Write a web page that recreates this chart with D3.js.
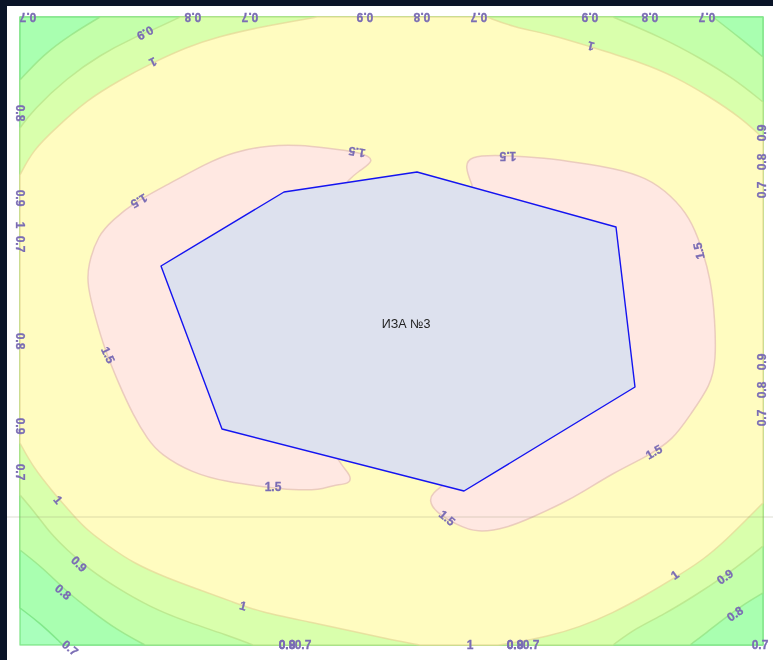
<!DOCTYPE html>
<html>
<head>
<meta charset="utf-8">
<script src="https://cdn.jsdelivr.net/npm/d3@7"></script>
<style>
  html, body { margin: 0; padding: 0; background: #0a1428; }
  svg { display: block; }
  #plot { filter: blur(0.35px); }
</style>
</head>
<body>
<svg id="chart" width="773" height="660"></svg>
<script>
// isolines, grid units. each one is a list of arcs, frame edges join the arcs
let frame = [[[0,0]],[[743,0]],[[743,628]],[[0,628]]]
let iso07 = [[[0,591],[20,606],[43,628]],[[743,628]],[[743,0]],[[0,0]]]
let iso08 = [
  [[0,63],[23,38],[50,18],[80,0]],
  [[693,0],[720,21],[743,40]],
  [[743,576],[726,586],[706,600],[686,616],[670,628]],
  [[125,628],[97,613],[70,593],[47,575],[23,551],[0,533]]
]
let iso09 = [
  [[0,111],[13,93],[47,61],[80,38],[113,21],[137,11],[160,0]],
  [[593,0],[643,21],[680,41],[713,61],[743,85]],
  [[743,529],[726,543],[706,558],[676,578],[643,598],[616,611],[593,628]],
  [[233,628],[207,618],[167,605],[130,590],[97,571],[70,553],[47,533],[30,516],[17,498],[0,478]]
]
let iso10 = [
  [[0,158],[13,133],[37,110],[67,83],[100,63],[132,46],[167,30],[197,20],[240,10],[297,0]],
  [[467,0],[493,10],[533,18],[571,30],[620,45],[656,60],[690,80],[720,100],[743,121]],
  [[743,486],[726,503],[706,523],[683,543],[656,560],[626,578],[593,596],[560,610],[526,620],[493,626],[478,628]],
  [[400,628],[373,623],[340,616],[290,605],[240,595],[213,585],[180,573],[147,561],[113,546],[87,528],[67,513],[53,498],[33,475],[13,450],[0,426]]
]
let iso15a = [[[328,164],[337,155],[357,143],[340,135],[307,131],[280,128],[250,128],[213,135],[187,146],[147,168],[113,186],[93,203],[78,218],[68,248],[67,268],[76,303],[85,333],[98,365],[113,398],[128,423],[140,437],[172,456],[207,465],[245,470],[273,473],[300,473],[313,468],[330,467],[331,459],[323,450],[318,442]]]
let iso15b = [[[452,168],[445,150],[449,139],[480,138],[526,141],[560,146],[593,151],[626,160],[652,179],[670,201],[681,228],[691,263],[695,303],[696,343],[691,368],[670,398],[653,423],[626,440],[593,456],[563,475],[543,486],[513,500],[487,511],[457,516],[437,508],[415,495],[409,483],[413,476],[422,469]]]
let area3 = [[141,249],[264,175],[397,155],[596,210],[615,370],[444,474],[202,412]]
let areaName = "ИЗА №3"
let areaPos = [386, 307]

let labelText = ["0.7","0.8","0.7","0.9","0.8","0.7","0.9","0.8","0.7",
  "0.8","0.9","1","0.7","0.8","0.9","0.7",
  "0.9","0.8","0.7","0.9","0.8","0.7",
  "0.8","0.9","0.7","1","0.8","0.9","0.7","0.7",
  "0.9","1","1","1.5","1.5","1.5",
  "0.7","0.8","0.9","1","1","1.5","1.5","1.5","1.5","1.5",
  "0.9","0.8","1"]
let labelX = [8,173,230,345,402,459,570,630,687,
  0,0,0,0,0,0,0,
  742,742,742,742,742,742,
  267,267,283,450,495,495,511,740,
  125,133,571,119,337,488,
  50,43,59,38,223,88,253,427,634,679,
  705,715,655]
let labelY = [0,0,0,0,0,0,0,0,0,
  96,181,208,227,324,409,455,
  116,145,173,345,373,401,
  628,628,628,628,628,628,628,628,
  16,45,29,184,135,139,
  631,575,547,483,589,338,470,501,435,234,
  560,597,558]
let labelAngle = [180,180,180,180,180,180,180,180,180,
  90,90,90,90,90,90,90,
  -90,-90,-90,-90,-90,-90,
  0,0,0,0,0,0,0,0,
  152,155,195,150,190,180,
  40,40,45,50,15,65,0,40,-30,258,
  -35,-35,-35]

let svg = d3.select("#chart")
let xScale = d3.scaleLinear().domain([0, 743]).range([20, 763])
let yScale = d3.scaleLinear().domain([0, 628]).range([17, 645])

// arcs get a smooth curve, joins stay straight
function regionPath(arcs, curve) {
  let line = d3.line().x(d => xScale(d[0])).y(d => yScale(d[1])).curve(curve)
  let out = arcs.map((arc, i) => {
    let s = arc.length > 1 ? line(arc) : `M${xScale(arc[0][0])},${yScale(arc[0][1])}`
    return i == 0 ? s : "L" + s.slice(1)
  })
  return out.join("") + "Z"
}

// page
svg.append("rect").attr("x", 7).attr("y", 6).attr("width", 766).attr("height", 654).attr("fill", "#fff")

let plot = svg.append("g").attr("id", "plot")

// bands, low to high, every band has its own edge colour
let bands = [
  { d: frame, fill: "#a9ffbc", stroke: "#74e07c", curve: d3.curveLinear },
  { d: iso07, fill: "#a9ffb0", stroke: "#74e07c", curve: d3.curveBasis },
  { d: iso08, fill: "#c4ffaa", stroke: "#96e284", curve: d3.curveBasis },
  { d: iso09, fill: "#d9ffac", stroke: "#b8e288", curve: d3.curveBasis },
  { d: iso10, fill: "#fffcc0", stroke: "#e6d898", curve: d3.curveBasis },
  { d: iso15a, fill: "#ffe8e2", stroke: "#e4c0b6", curve: d3.curveBasis },
  { d: iso15b, fill: "#ffe8e2", stroke: "#e4c0b6", curve: d3.curveBasis }
]
plot.selectAll("path.band")
  .data(bands)
  .enter()
  .append("path")
  .attr("class", "band")
  .attr("d", d => regionPath(d.d, d.curve))
  .attr("fill", d => d.fill)
  .attr("stroke", d => d.stroke)
  .attr("stroke-width", 1.5)
  .attr("stroke-opacity", 0.75)
  .attr("stroke-linejoin", "round")

// stray rule across the page
plot.append("line")
  .attr("x1", 7).attr("x2", 773)
  .attr("y1", yScale(500)).attr("y2", yScale(500))
  .attr("stroke", "#8a8a6a").attr("stroke-opacity", 0.3)

// source outline
plot.append("path")
  .attr("d", regionPath([area3], d3.curveLinear))
  .attr("fill", "#dde1ee")
  .attr("stroke", "#1414f0")
  .attr("stroke-width", 1.4)
  .attr("stroke-linejoin", "round")

plot.append("text")
  .attr("x", xScale(areaPos[0])).attr("y", yScale(areaPos[1]))
  .attr("text-anchor", "middle").attr("dominant-baseline", "central")
  .attr("font-family", "Liberation Sans, Arial, sans-serif")
  .attr("font-size", 12.5)
  .attr("fill", "#222")
  .text(areaName)

// contour labels
plot.selectAll("text.lbl")
  .data(labelText)
  .enter()
  .append("text")
  .attr("class", "lbl")
  .attr("transform", (d, i) => `translate(${xScale(labelX[i])},${yScale(labelY[i])}) rotate(${labelAngle[i]})`)
  .attr("text-anchor", "middle").attr("dominant-baseline", "central")
  .attr("font-family", "Liberation Sans, Arial, sans-serif")
  .attr("font-size", 12)
  .attr("font-weight", "bold")
  .attr("fill", "#7a6cb4")
  .attr("stroke", "#7a6cb4")
  .attr("stroke-width", 0.3)
  .text(d => d)
</script>
</body>
</html>
